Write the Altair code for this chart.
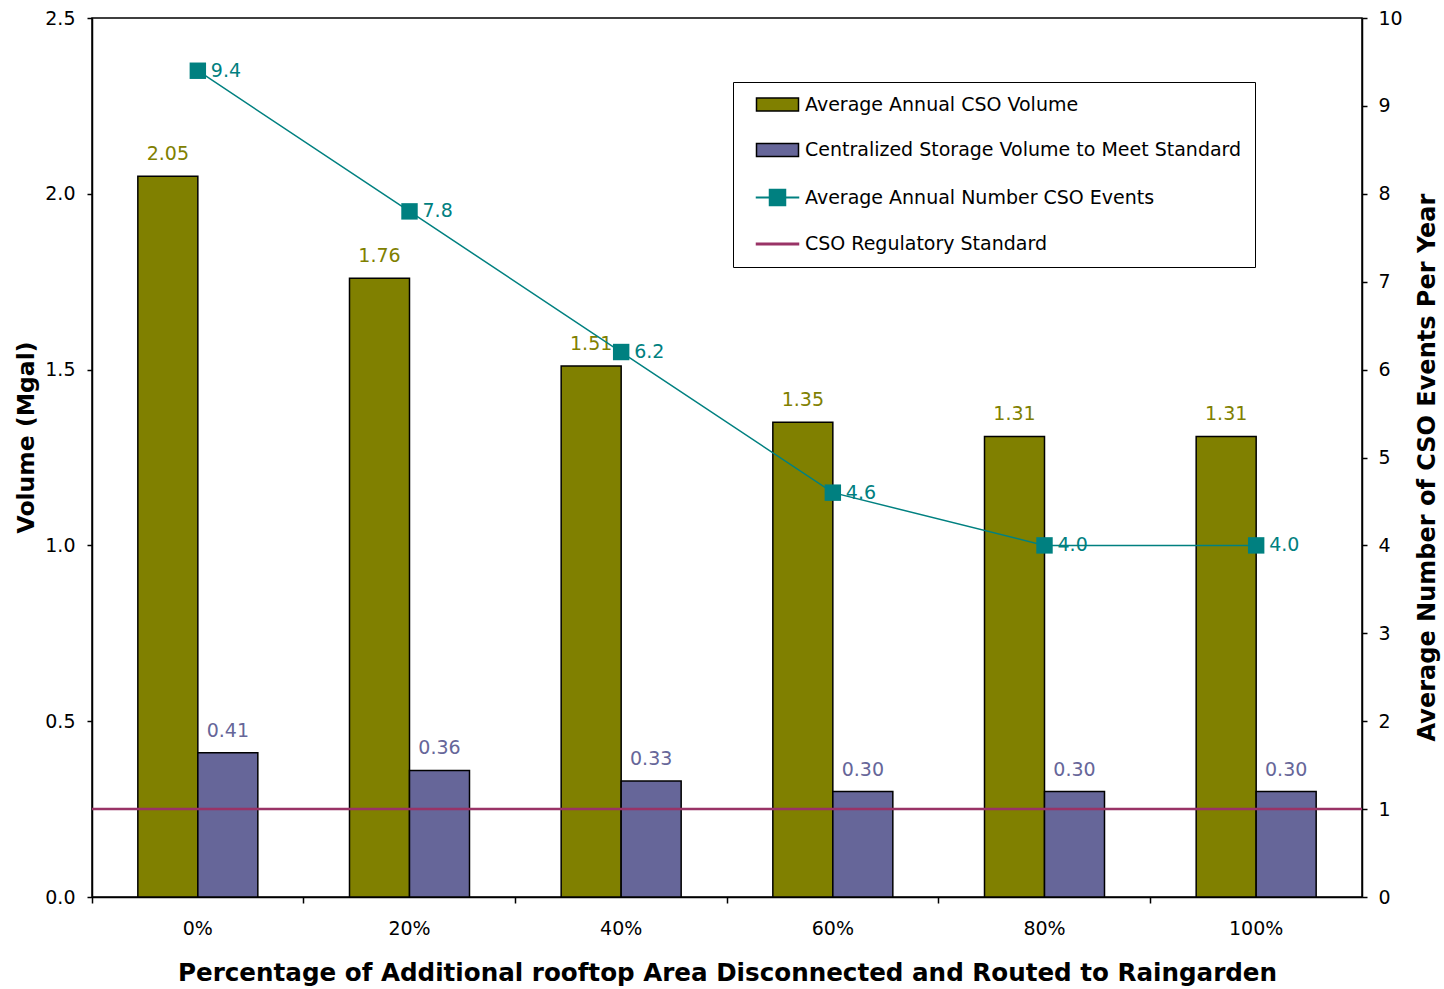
import altair as alt
import pandas as pd

# Scenario categories and modelled results
categories = ["0%", "20%", "40%", "60%", "80%", "100%"]
cso_volume = [2.05, 1.76, 1.51, 1.35, 1.31, 1.31]        # Mgal
storage_volume = [0.41, 0.36, 0.33, 0.30, 0.30, 0.30]    # Mgal
cso_events = [9.4, 7.8, 6.2, 4.6, 4.0, 4.0]              # events per year
regulatory_standard = [1]                                 # events per year

series_names = [
    "Average Annual CSO Volume",
    "Centralized Storage Volume to Meet Standard",
    "Average Annual Number CSO Events",
    "CSO Regulatory Standard",
]
series_colors = ["#808000", "#666699", "#008080", "#993366"]

FONT = "DejaVu Sans"

volume_df = pd.DataFrame({
    "pct": categories * 2,
    "series": [series_names[0]] * len(categories) + [series_names[1]] * len(categories),
    "volume": cso_volume + storage_volume,
})
events_df = pd.DataFrame({"pct": categories, "events": cso_events})
standard_df = pd.DataFrame({"events": regulatory_standard})

# Legend symbols: bar swatch, line with square marker, plain line
BAR_PATH = "M0.125,-0.8H5.375V0.8H0.125Z"
LINE_MARK_PATH = "M0.125,-0.04H5.375V0.04H0.125Z M1.75,-1H3.75V1H1.75Z"
LINE_PATH = "M0.125,-0.1H5.375V0.1H0.125Z"
symbol_expr = (
    f"datum.value == '{series_names[2]}' ? '{LINE_MARK_PATH}' : "
    f"datum.value == '{series_names[3]}' ? '{LINE_PATH}' : '{BAR_PATH}'"
)
stroke_expr = (
    f"datum.value == '{series_names[2]}' ? '{series_colors[2]}' : "
    f"datum.value == '{series_names[3]}' ? '{series_colors[3]}' : '#000000'"
)

legend = alt.Legend(
    title=None,
    orient="none",
    legendX=641,
    legendY=64,
    direction="vertical",
    fillColor="white",
    strokeColor="black",
    padding=13,
    labelFont=FONT,
    labelFontSize=19,
    labelColor="black",
    labelLimit=700,
    labelOffset=40,
    rowPadding=25.5,
    symbolSize=256,
    symbolType=alt.ExprRef(symbol_expr),
    symbolStrokeColor=alt.ExprRef(stroke_expr),
    symbolStrokeWidth=1.5,
)

color_scale = alt.Scale(domain=series_names, range=series_colors)

x_enc = alt.X(
    "pct:N",
    sort=categories,
    scale=alt.Scale(paddingInner=0, paddingOuter=0),
    axis=alt.Axis(
        title="Percentage of Additional rooftop Area Disconnected and Routed to Raingarden",
        labelAngle=0,
        bandPosition=0,
        tickSize=6,
        labelPadding=16,
        titlePadding=23,
        titleFontSize=24.6,
    ),
)
x_offset = alt.XOffset(
    "series:N",
    sort=series_names[:2],
    scale=alt.Scale(paddingInner=0, paddingOuter=0.764),
)

y_left = alt.Y(
    "volume:Q",
    scale=alt.Scale(domain=[0, 2.5]),
    axis=alt.Axis(
        title="Volume (Mgal)",
        values=[0, 0.5, 1.0, 1.5, 2.0, 2.5],
        format=".1f",
        tickSize=5,
        labelPadding=12,
        titlePadding=6,
        titleFontSize=23.5,
        titleY=419,
    ),
)

right_axis = alt.Axis(
    title="Average Number of CSO Events Per Year",
    orient="right",
    values=list(range(0, 11)),
    format="d",
    tickSize=5,
    labelPadding=11,
    titlePadding=13,
    titleAngle=270,
    titleBaseline="top",
    titleFontSize=24,
    titleY=449,
)
right_scale = alt.Scale(domain=[0, 10])
y_right = alt.Y("events:Q", scale=right_scale, axis=right_axis)

bars = alt.Chart(volume_df).mark_bar(stroke="black", strokeWidth=1.5).encode(
    x=x_enc,
    xOffset=x_offset,
    y=y_left,
    color=alt.Color("series:N", scale=color_scale, legend=legend),
)

bar_labels = alt.Chart(volume_df).mark_text(
    font=FONT, fontSize=19, baseline="alphabetic", dy=-16
).encode(
    x=x_enc,
    xOffset=x_offset,
    y=y_left,
    text=alt.Text("volume:Q", format=".2f"),
    color=alt.Color("series:N", scale=color_scale, legend=None),
)

volume_layer = alt.layer(bars, bar_labels)

events_line = alt.Chart(events_df).mark_line(color=series_colors[2], strokeWidth=1.5).encode(
    x=x_enc, y=y_right
)
standard_rule = alt.Chart(standard_df).mark_rule(color=series_colors[3], strokeWidth=2.5).encode(
    y=y_right
)
events_points = alt.Chart(events_df).mark_point(
    shape="square", filled=True, size=270, opacity=1, color=series_colors[2]
).encode(x=x_enc, y=y_right)
events_labels = alt.Chart(events_df).mark_text(
    font=FONT, fontSize=19, align="left", baseline="middle", dx=13, color=series_colors[2]
).encode(
    x=x_enc, y=y_right, text=alt.Text("events:Q", format=".1f")
)

events_layer = alt.layer(events_line, standard_rule, events_points, events_labels)

chart = (
    alt.layer(volume_layer, events_layer)
    .resolve_scale(y="independent")
    .properties(
        width=1270,
        height=879,
        autosize=alt.AutoSizeParams(type="none"),
        padding={"left": 92, "top": 18, "right": 82, "bottom": 92},
        background="white",
    )
    .configure_view(stroke="black", strokeWidth=1.5)
    .configure_axis(
        labelFont=FONT,
        labelFontSize=19,
        labelColor="black",
        titleFont=FONT,
        titleFontSize=23,
        titleFontWeight="bold",
        titleColor="black",
        domainColor="black",
        domainWidth=1.5,
        tickColor="black",
        tickWidth=1.5,
        grid=False,
    )
)

chart.save("out.html", embed_options={"renderer": "svg", "actions": False})
